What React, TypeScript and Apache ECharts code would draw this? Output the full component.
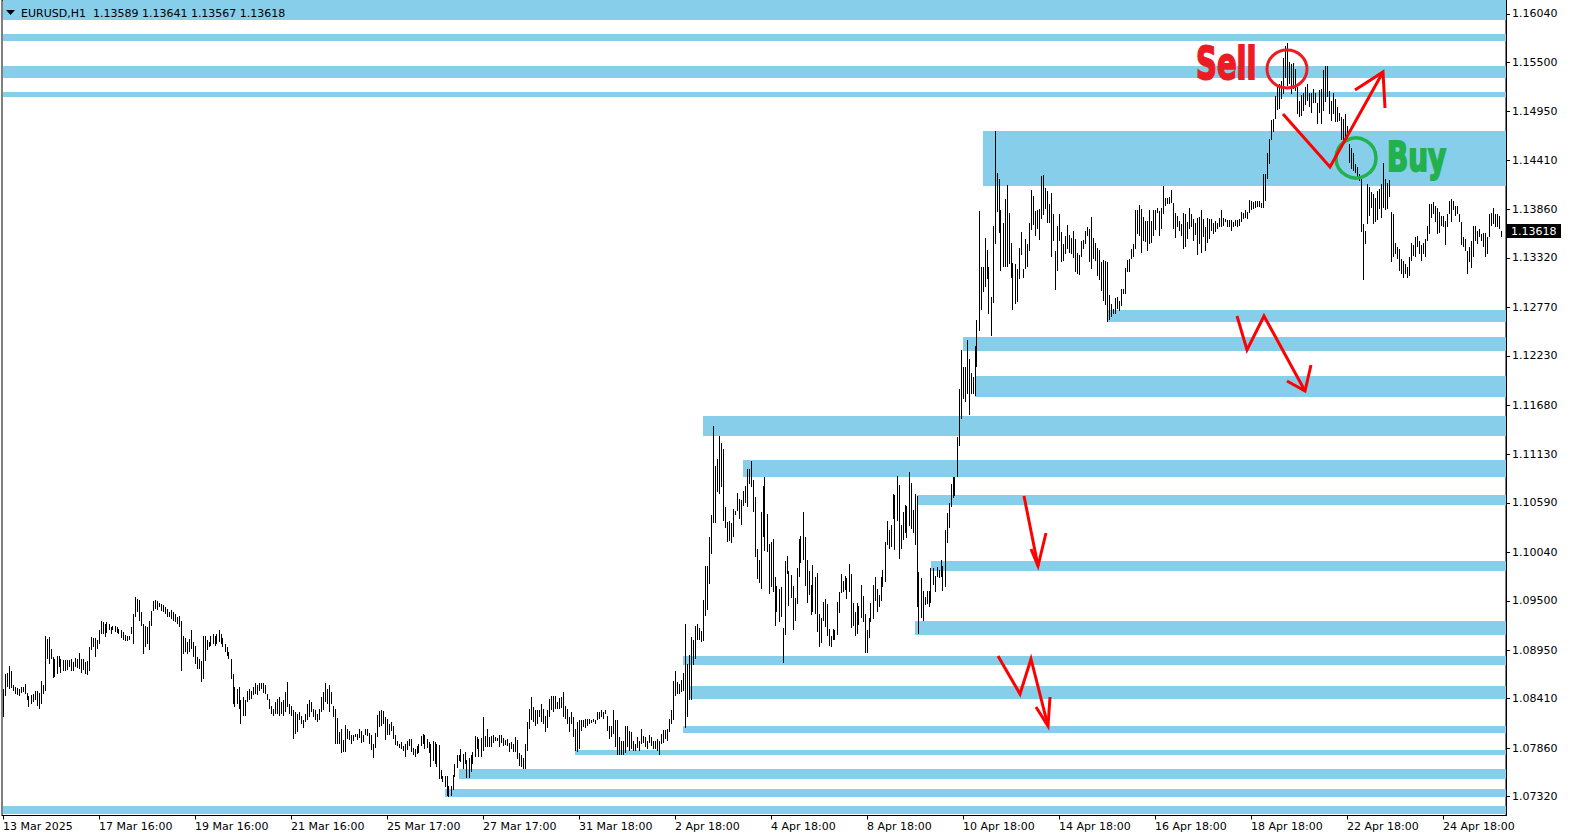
import React, { useEffect, useRef } from 'react';
import * as echarts from 'echarts';

// Hourly bar highs / lows, in price x 10^4 (EURUSD, H1)
const HIGH = [
  // 13 Mar - 17 Mar
  10852,10869,10870,10877,10872,10856,10854,10853,10852,10854,
  10854,10857,10847,10844,10845,10846,10850,10850,10847,10861,
  10856,10911,10908,10910,10896,10887,10885,10888,10889,10885,
  10884,10884,10884,10884,10885,10882,10886,10885,10892,10885,
  10885,10882,10883,10899,10910,10909,10909,10906,10918,10928,
  10926,10924,10926,10924,10921,10922,10922,10921,10919,10917,
  10915,10912,10911,10911,10921,10935,10954,10952,10951,10937,
  10924,10922,10921,10928,10939,10950,10951,10950,10948,10946,
  10945,10943,10941,10937,
  // i84-168
  10940,10938,10935,10932,10933,10928,10911,10909,10904,10908,
  10917,10904,10900,10887,10885,10883,10911,10911,10906,10904,
  10911,10913,10911,10913,10917,10913,10909,10902,10898,10893,
  10885,10869,10854,10852,10854,10839,10843,10839,10850,10852,
  10850,10854,10858,10856,10858,10858,10858,10856,10846,10841,
  10833,10830,10837,10841,10843,10837,10839,10848,10859,10835,
  10833,10828,10826,10824,10826,10822,10817,10824,10835,10839,
  10837,10830,10828,10824,10830,10843,10848,10858,10852,10856,
  10848,10833,10830,10819,10804,
  // i169-253
  10807,10795,10812,10807,10805,10800,10801,10802,10802,10807,
  10805,10800,10807,10807,10803,10801,10791,10803,10823,10827,
  10828,10827,10821,10818,10813,10815,10810,10801,10794,10791,
  10793,10788,10791,10794,10796,10796,10786,10785,10788,10791,
  10799,10802,10801,10796,10793,10791,10794,10793,10791,10789,
  10761,10755,10755,10755,10744,10744,10756,10768,10778,10778,
  10785,10779,10781,10773,10775,10778,10781,10799,10798,10796,
  10797,10820,10799,10807,10798,10799,10801,10798,10797,10800,
  10800,10797,10795,10796,10792,
  // i254-338
  10793,10791,10798,10795,10780,10778,10775,10791,10815,10830,
  10843,10832,10828,10828,10828,10835,10830,10822,10828,10841,
  10844,10844,10844,10837,10842,10843,10848,10833,10830,10820,
  10826,10820,10807,10815,10817,10817,10817,10818,10818,10818,
  10817,10818,10817,10826,10826,10828,10826,10828,10822,10810,
  10811,10828,10817,10817,10798,10794,10794,10811,10811,10805,
  10804,10794,10790,10798,10794,10807,10799,10798,10794,10801,
  10798,10794,10794,10796,10794,10802,10806,10806,10807,10818,
  10828,10861,10872,10859,10857,
  // i339-418
  10862,10870,10924,10880,10890,10910,10906,10922,10924,10920,
  10916,10951,10989,10989,11021,11046,11145,11100,11108,11134,
  11126,11119,11055,11038,11039,11037,11052,11050,11070,11063,
  11062,11072,11078,11097,11097,11106,11085,11066,11008,10996,
  11049,11078,11088,11047,11013,11016,11019,10976,10966,10963,
  10965,10920,10994,11000,10983,10979,10967,10953,10987,11019,
  11022,11049,11021,10995,10983,10968,10990,10976,10981,10935,
  10931,10949,10952,10947,10919,10911,10919,10918,10949,10960,
  // i419-498
  10980,10972,10978,10975,10991,10980,10948,10937,10948,10944,
  10968,10955,10935,10918,10931,10948,10968,10977,10963,10957,
  10977,10984,11016,11039,11029,11035,11069,11068,11089,11079,
  11034,11049,11057,11056,11094,11081,11051,11069,11067,10982,
  10975,10961,10954,10961,10961,10986,10987,10978,10988,10984,
  10995,10989,11029,11048,11059,11080,11088,11088,11132,11186,
  11229,11210,11210,11241,11219,11204,11199,11234,11263,11384,
  11322,11322,11354,11341,11322,11289,11368,11473,11427,11420,
  // i499-583
  11385,11371,11398,11413,11382,11349,11326,11325,11320,11343,
  11361,11320,11353,11348,11371,11408,11401,11384,11385,11387,
  11423,11424,11410,11407,11392,11404,11381,11340,11368,11381,
  11361,11348,11357,11369,11358,11354,11362,11353,11338,11335,
  11351,11352,11362,11367,11364,11378,11354,11349,11343,11341,
  11328,11330,11329,11327,11291,11281,11275,11287,11289,11284,
  11297,11297,11321,11330,11331,11342,11348,11385,11385,11391,
  11386,11378,11373,11373,11385,11373,11385,11385,11388,11384,
  11388,11412,11399,11399,11400,
  // i584-668
  11408,11393,11382,11379,11373,11370,11382,11381,11372,11388,
  11381,11375,11371,11377,11378,11385,11375,11367,11377,11375,
  11375,11371,11373,11371,11377,11385,11377,11375,11374,11374,
  11374,11372,11374,11374,11375,11383,11382,11385,11383,11397,
  11395,11394,11395,11395,11396,11393,11425,11426,11449,11465,
  11486,11487,11512,11524,11526,11529,11555,11568,11572,11550,
  11548,11549,11542,11522,11507,11513,11516,11522,11526,11516,
  11516,11520,11516,11505,11519,11520,11541,11546,11546,11518,
  11507,11516,11509,11500,11494,
  // i669-749
  11489,11487,11492,11479,11459,11455,11449,11437,11433,11425,
  11420,11370,11362,11414,11411,11405,11403,11399,11407,11409,
  11414,11438,11420,11416,11419,11383,11381,11349,11344,11342,
  11331,11329,11325,11322,11333,11349,11346,11355,11357,11351,
  11346,11349,11353,11368,11392,11392,11394,11390,11388,11383,
  11379,11379,11373,11381,11396,11398,11396,11390,11390,11381,
  11372,11355,11353,11340,11344,11351,11368,11368,11362,11364,
  11359,11360,11360,11355,11381,11382,11388,11381,11381,11379,
  11362,
];

const LOW = [
  10820,10844,10854,10852,10853,10850,10846,10845,10844,10847,
  10848,10846,10840,10832,10835,10837,10839,10833,10830,10835,
  10846,10850,10885,10880,10885,10864,10865,10869,10876,10870,
  10872,10872,10873,10876,10872,10872,10876,10875,10874,10870,
  10873,10869,10867,10872,10895,10898,10887,10896,10902,10913,
  10913,10910,10914,10917,10913,10917,10915,10914,10913,10909,
  10906,10905,10905,10906,10913,10902,10932,10937,10928,10922,
  10891,10898,10902,10895,10922,10939,10941,10940,10943,10939,
  10937,10935,10932,10932,
  // i84-168
  10930,10928,10926,10924,10921,10872,10891,10893,10891,10893,
  10896,10887,10880,10874,10874,10859,10863,10883,10895,10898,
  10900,10902,10900,10902,10904,10902,10898,10893,10889,10885,
  10863,10835,10832,10835,10830,10813,10822,10822,10837,10839,
  10841,10845,10846,10845,10850,10852,10847,10846,10839,10830,
  10824,10822,10824,10824,10822,10824,10822,10826,10832,10824,
  10822,10796,10802,10804,10817,10813,10808,10815,10817,10820,
  10826,10820,10817,10815,10817,10826,10828,10837,10835,10826,
  10835,10820,10791,10791,10791,
  // i169-253
  10780,10782,10782,10796,10795,10791,10794,10798,10795,10797,
  10792,10793,10801,10799,10791,10784,10775,10786,10798,10809,
  10811,10813,10795,10800,10800,10805,10796,10789,10788,10786,
  10785,10783,10776,10784,10788,10782,10778,10776,10779,10780,
  10788,10791,10785,10786,10780,10765,10771,10768,10765,10751,
  10752,10748,10742,10733,10731,10733,10739,10754,10764,10772,
  10770,10763,10768,10753,10753,10759,10768,10776,10785,10776,
  10776,10783,10787,10787,10787,10787,10792,10794,10794,10787,
  10792,10788,10789,10788,10782,
  // i254-338
  10785,10781,10781,10774,10766,10765,10763,10763,10783,10807,
  10817,10815,10810,10813,10821,10815,10813,10804,10808,10821,
  10828,10826,10830,10830,10830,10831,10820,10818,10813,10804,
  10813,10798,10783,10781,10785,10805,10809,10808,10811,10813,
  10814,10815,10813,10817,10818,10820,10818,10824,10805,10796,
  10798,10802,10787,10778,10778,10778,10778,10780,10787,10783,
  10785,10783,10783,10786,10783,10791,10792,10787,10785,10792,
  10788,10785,10785,10783,10778,10790,10792,10796,10794,10804,
  10813,10817,10844,10846,10846,
  // i339-418
  10848,10850,10808,10820,10840,10839,10878,10885,10906,10906,
  10904,10905,10933,10940,10969,11002,11037,11037,11071,11069,
  11077,11039,11031,11016,11017,11014,11021,11046,11050,11041,
  11035,11056,11059,11055,11080,11077,11049,10999,10974,10970,
  10963,11021,11006,11004,10958,10965,10960,10922,10937,10926,
  10932,10881,10912,10980,10944,10953,10918,10928,10947,10976,
  10992,10996,10966,10948,10956,10934,10937,10935,10915,10899,
  10903,10927,10921,10911,10900,10899,10906,10906,10912,10936,
  // i419-498
  10959,10960,10962,10952,10960,10920,10922,10911,10913,10923,
  10931,10926,10892,10892,10909,10926,10930,10950,10937,10943,
  10950,10965,10971,11012,11008,11010,11041,11007,11039,10997,
  11008,11018,11025,11020,11033,11030,11025,11012,10943,10913,
  10931,10928,10945,10946,10943,10948,10968,10960,10977,10975,
  10977,10961,10965,11014,11031,11054,11065,11067,11088,11123,
  11153,11175,11172,11180,11157,11180,11180,11178,11211,11251,
  11274,11294,11300,11308,11269,11245,11282,11347,11383,11360,
  // i499-583
  11318,11322,11322,11322,11325,11310,11274,11281,11283,11309,
  11335,11310,11320,11322,11340,11363,11369,11356,11364,11352,
  11375,11380,11387,11371,11371,11333,11351,11296,11318,11351,
  11327,11329,11336,11342,11337,11336,11332,11316,11314,11313,
  11333,11342,11348,11357,11327,11320,11331,11329,11312,11307,
  11295,11284,11280,11261,11263,11266,11270,11270,11275,11273,
  11278,11292,11292,11316,11316,11331,11333,11342,11359,11356,
  11337,11351,11350,11340,11347,11349,11357,11363,11382,11357,
  11364,11381,11390,11392,11392,
  // i584-668
  11393,11364,11354,11366,11362,11357,11342,11344,11353,11364,
  11366,11351,11358,11335,11348,11338,11355,11340,11349,11353,
  11362,11359,11361,11364,11366,11366,11368,11372,11367,11366,
  11362,11366,11368,11366,11368,11372,11375,11377,11375,11382,
  11385,11387,11388,11389,11389,11388,11388,11395,11420,11437,
  11463,11472,11487,11497,11498,11509,11515,11533,11524,11526,
  11515,11520,11518,11492,11489,11490,11496,11502,11507,11500,
  11494,11505,11505,11481,11494,11481,11496,11506,11511,11492,
  11485,11492,11483,11483,11485,
  // i669-749
  11463,11461,11463,11461,11438,11431,11429,11427,11421,11418,
  11361,11307,11347,11370,11379,11388,11370,11372,11374,11386,
  11377,11388,11385,11386,11400,11327,11333,11336,11331,11318,
  11314,11310,11314,11310,11312,11329,11334,11333,11344,11336,
  11329,11336,11333,11351,11359,11377,11381,11372,11359,11360,
  11368,11366,11346,11366,11381,11372,11385,11379,11381,11372,
  11346,11344,11340,11314,11327,11321,11333,11351,11347,11355,
  11351,11344,11333,11336,11355,11368,11370,11366,11366,11364,
  11355,
];

// Support / resistance zones: first bar index, lower and upper price (x 10^4)
const ZONE_START = [0, 0, 0, 0, 490, 552, 480, 486, 350, 370, 457, 464, 456, 340, 343, 340, 286, 228, 221, 0];
const ZONE_LOW = [11597, 11574, 11533, 11511, 11412, 11261, 11228, 11177, 11134, 11088, 11057, 10983, 10912, 10878, 10841, 10803, 10778, 10752, 10731, 10712];
const ZONE_HIGH = [11620, 11581, 11546, 11517, 11473, 11274, 11244, 11201, 11156, 11107, 11068, 10994, 10928, 10888, 10855, 10810, 10784, 10763, 10740, 10721];

const Y_TICKS = [1.0732, 1.0786, 1.0841, 1.0895, 1.095, 1.1004, 1.1059, 1.1113, 1.1168, 1.1223, 1.1277, 1.1332, 1.1386, 1.1441, 1.1495, 1.155, 1.1604];
const X_TICK_INDEX = [0, 48, 96, 144, 192, 240, 288, 336, 384, 432, 480, 528, 576, 624, 672, 720];
const X_TICK_LABELS = [
  '13 Mar 2025', '17 Mar 16:00', '19 Mar 16:00', '21 Mar 16:00', '25 Mar 17:00', '27 Mar 17:00',
  '31 Mar 18:00', '2 Apr 18:00', '4 Apr 18:00', '8 Apr 18:00', '10 Apr 18:00', '14 Apr 18:00',
  '16 Apr 18:00', '18 Apr 18:00', '22 Apr 18:00', '24 Apr 18:00',
];
const LAST_PRICE = 1.13618;
const TITLE = 'EURUSD,H1  1.13589 1.13641 1.13567 1.13618';

const Y_MIN = 1.07108;
const Y_MAX = 1.16194;
const SLOTS = 752;
const FONT = '"DejaVu Sans", Verdana, sans-serif';

export default function App() {
  const ref = useRef<HTMLDivElement>(null);

  useEffect(() => {
    if (!ref.current) return;
    const chart = echarts.init(ref.current, null, { renderer: 'svg' });

    const categories = Array.from({ length: SLOTS }, (_, i) => String(i));
    const labelMap = new Map<number, string>();
    X_TICK_INDEX.forEach((idx, k) => labelMap.set(idx, X_TICK_LABELS[k]));
    const showTick = (idx: number) => labelMap.has(idx);

    const bars = HIGH.map((h, i) => [i, LOW[i] / 10000, h / 10000]);
    const zones = ZONE_START.map((s, k) => [s, ZONE_LOW[k] / 10000, ZONE_HIGH[k] / 10000]);

    const red = '#FF0000';

    chart.setOption({
      animation: false,
      backgroundColor: '#ffffff',
      grid: {
        left: 2,
        top: 0,
        width: 1504,
        height: 815.5,
        show: true,
        borderColor: '#000',
        borderWidth: 1,
        backgroundColor: '#ffffff',
        containLabel: false,
        outerBoundsMode: 'none',
      },
      xAxis: {
        type: 'category',
        data: categories,
        boundaryGap: true,
        axisLine: { show: true, lineStyle: { color: '#000', width: 1 } },
        axisTick: { show: true, interval: showTick, alignWithLabel: true, length: 4, lineStyle: { color: '#000' } },
        axisLabel: {
          show: true,
          interval: showTick,
          formatter: (_v: string, idx: number) => labelMap.get(idx) || '',
          align: 'left',
          margin: 5,
          color: '#000',
          fontSize: 11,
          fontFamily: FONT,
          hideOverlap: false,
        },
        splitLine: { show: false },
      },
      yAxis: {
        type: 'value',
        position: 'right',
        min: Y_MIN,
        max: Y_MAX,
        scale: true,
        splitLine: { show: false },
        axisLine: { show: true, lineStyle: { color: '#000', width: 1 } },
        axisTick: { show: true, length: 4, customValues: Y_TICKS, lineStyle: { color: '#000' } },
        axisLabel: {
          show: true,
          customValues: Y_TICKS,
          formatter: (v: number) => v.toFixed(5),
          margin: 6,
          color: '#000',
          fontSize: 11,
          fontFamily: FONT,
        },
      },
      series: [
        {
          type: 'custom',
          name: 'zones',
          z: 1,
          clip: false,
          data: zones,
          encode: { x: 0, y: [1, 2] },
          renderItem: (params: any, api: any) => {
            const cs = params.coordSys;
            const s = api.value(0);
            const top = api.coord([s, api.value(2)]);
            const bot = api.coord([s, api.value(1)]);
            const x = Math.round(top[0]);
            const y1 = Math.max(Math.round(top[1]), cs.y);
            const y2 = Math.round(bot[1]);
            return {
              type: 'rect',
              shape: { x, y: y1, width: cs.x + cs.width - x, height: Math.max(1, y2 - y1) },
              style: { fill: '#87CEEB' },
            };
          },
        },
        {
          type: 'custom',
          name: 'EURUSD',
          z: 2,
          data: bars,
          encode: { x: 0, y: [1, 2] },
          renderItem: (_params: any, api: any) => {
            const i = api.value(0);
            const lo = api.coord([i, api.value(1)]);
            const hi = api.coord([i, api.value(2)]);
            const x = Math.floor(lo[0]) + 0.5;
            const y1 = Math.round(hi[1]);
            let y2 = Math.round(lo[1]);
            if (y2 - y1 < 2) y2 = y1 + 2;
            return {
              type: 'line',
              shape: { x1: x, y1, x2: x, y2 },
              style: { stroke: '#000', lineWidth: 1 },
            };
          },
        },
      ],
    });

    // last-price tag on the price scale, placed through the y axis
    const tagY = chart.convertToPixel({ yAxisIndex: 0 }, LAST_PRICE) as number;

    chart.setOption({
      graphic: [
        { type: 'polygon', z: 100, shape: { points: [[6, 10], [15, 10], [10.5, 15]] }, style: { fill: '#000' } },
        {
          type: 'text', z: 100, x: 21, y: 13,
          style: { text: TITLE, fill: '#000', font: `11px ${FONT}`, align: 'left', verticalAlign: 'middle' },
        },
        {
          type: 'rect', z: 100, shape: { x: 1507, y: Math.round(tagY) - 7, width: 54, height: 14 },
          style: { fill: '#000' },
        },
        {
          type: 'text', z: 101, x: 1511, y: Math.round(tagY),
          style: { text: LAST_PRICE.toFixed(5), fill: '#fff', font: `11px ${FONT}`, align: 'left', verticalAlign: 'middle' },
        },
        {
          type: 'text', z: 100, x: 1196, y: 64, scaleX: 0.66,
          style: {
            text: 'Sell', fill: '#ED1C24', stroke: '#ED1C24', lineWidth: 2,
            font: `bold 44px ${FONT}`, align: 'left', verticalAlign: 'middle',
          },
        },
        {
          type: 'text', z: 100, x: 1387, y: 156, scaleX: 0.68,
          style: {
            text: 'Buy', fill: '#22B14C', stroke: '#22B14C', lineWidth: 2,
            font: `bold 41px ${FONT}`, align: 'left', verticalAlign: 'middle',
          },
        },
        {
          type: 'ellipse', z: 100, shape: { cx: 1287, cy: 69, rx: 20, ry: 19 },
          style: { fill: 'none', stroke: '#ED1C24', lineWidth: 3 },
        },
        {
          type: 'circle', z: 100, shape: { cx: 1356, cy: 158, r: 20 },
          style: { fill: 'none', stroke: '#22B14C', lineWidth: 3.5 },
        },
        { type: 'polyline', z: 100, shape: { points: [[1283, 114], [1330, 167], [1383, 72]] }, style: { stroke: red, lineWidth: 3, fill: 'none' } },
        { type: 'polyline', z: 100, shape: { points: [[1355, 90], [1383, 72], [1385, 108]] }, style: { stroke: red, lineWidth: 3, fill: 'none' } },
        { type: 'polyline', z: 100, shape: { points: [[1237, 316], [1247, 350], [1264, 316], [1305, 391]] }, style: { stroke: red, lineWidth: 3, fill: 'none' } },
        { type: 'polyline', z: 100, shape: { points: [[1287, 381], [1305, 391], [1311, 365]] }, style: { stroke: red, lineWidth: 3, fill: 'none' } },
        { type: 'polyline', z: 100, shape: { points: [[1024, 496], [1038, 566]] }, style: { stroke: red, lineWidth: 3, fill: 'none' } },
        { type: 'polyline', z: 100, shape: { points: [[1031, 549], [1038, 566], [1046, 533]] }, style: { stroke: red, lineWidth: 3, fill: 'none' } },
        { type: 'polyline', z: 100, shape: { points: [[998, 656], [1020, 694], [1031, 659], [1048, 726]] }, style: { stroke: red, lineWidth: 3, fill: 'none' } },
        { type: 'polyline', z: 100, shape: { points: [[1036, 707], [1048, 726], [1050, 697]] }, style: { stroke: red, lineWidth: 3, fill: 'none' } },
      ],
    });

    return () => chart.dispose();
  }, []);

  return (
    <div
      ref={ref}
      style={{ position: 'absolute', left: 0, top: 0, width: 1570, height: 840, background: '#fff' }}
    />
  );
}
